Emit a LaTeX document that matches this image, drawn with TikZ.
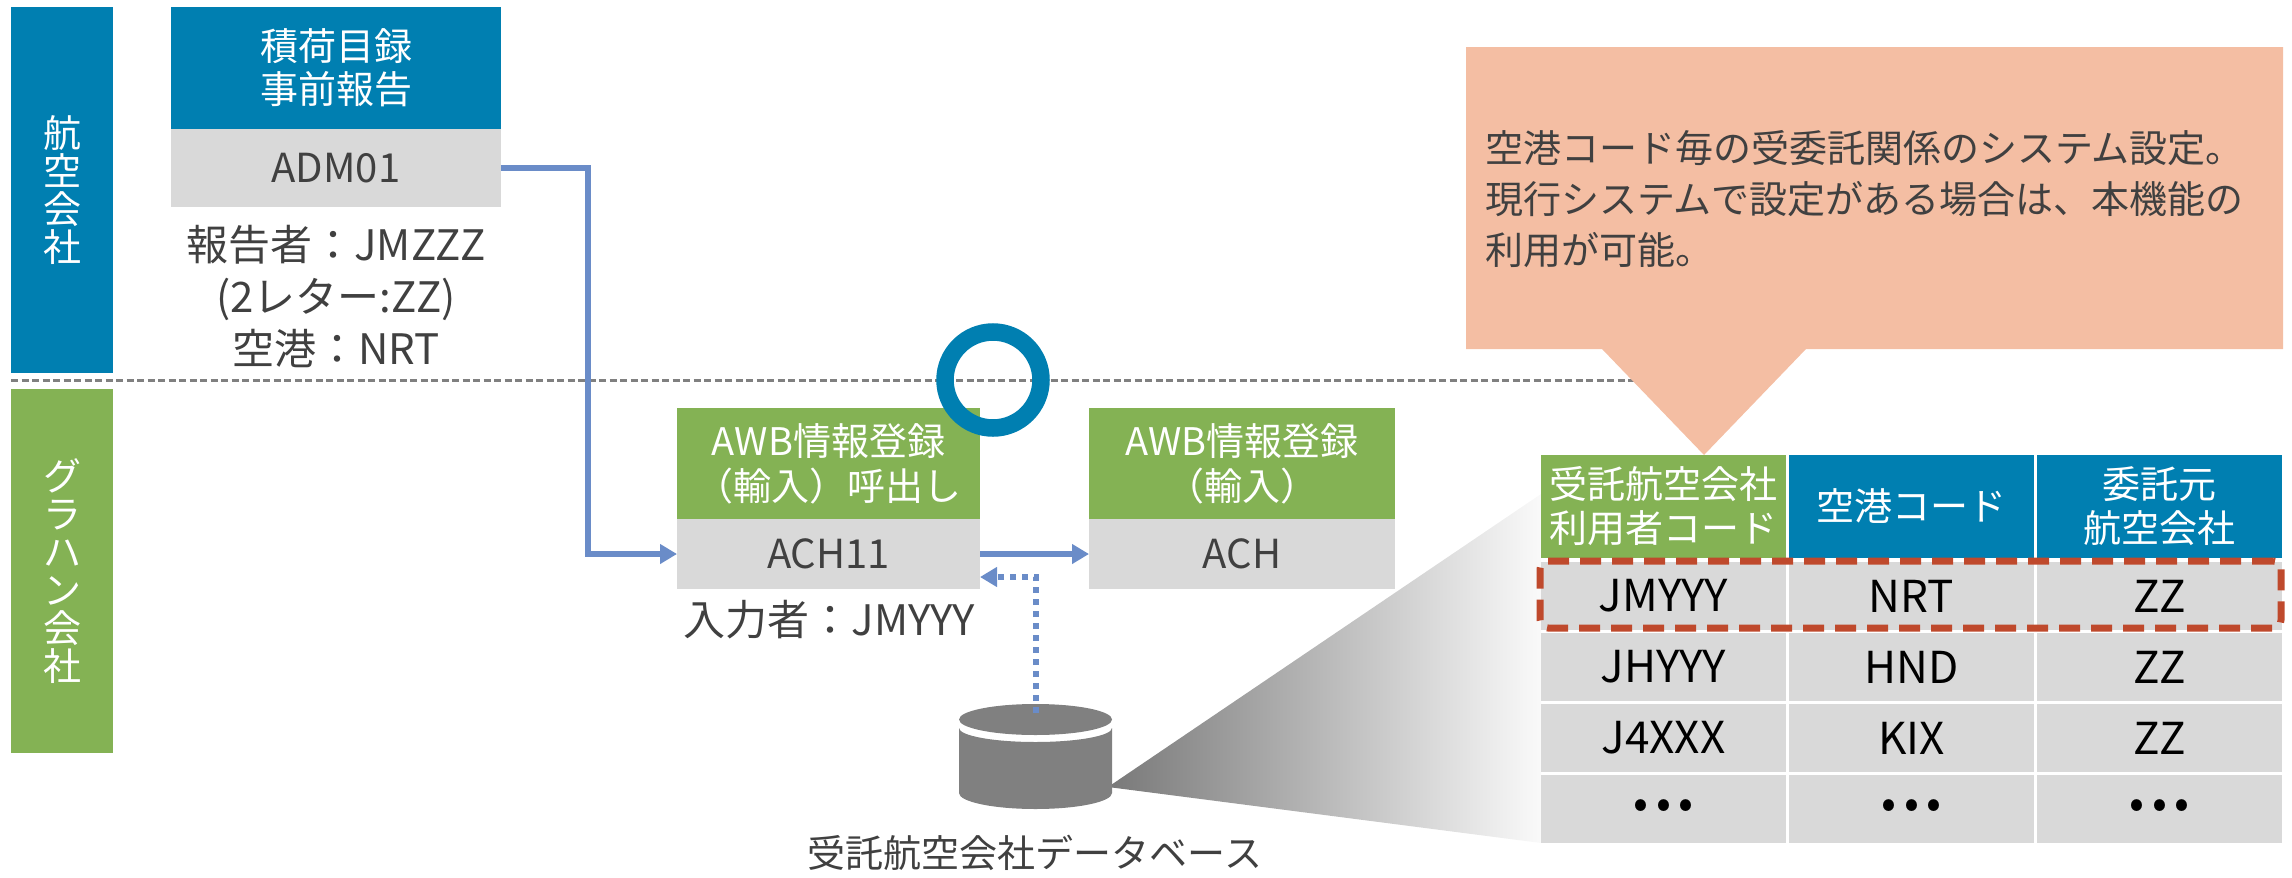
\documentclass[tikz,border=0pt]{standalone}
\usepackage{fontspec}
\setmainfont{Noto Sans CJK JP}
\usetikzlibrary{arrows.meta}
\definecolor{barblue}{RGB}{0,127,177}
\definecolor{cgreen}{RGB}{132,178,84}
\definecolor{cgray}{RGB}{217,217,217}
\definecolor{txt}{RGB}{64,64,64}
\definecolor{sepgray}{RGB}{128,128,128}
\definecolor{dbgray}{RGB}{128,128,128}
\definecolor{arrblue}{RGB}{106,140,200}
\definecolor{calloutc}{RGB}{244,190,163}
\definecolor{hlred}{RGB}{191,73,44}
\definecolor{wedgeL}{RGB}{120,120,120}
\definecolor{wedgeR}{RGB}{250,250,250}
\newcommand\fsz[2]{\fontsize{#1pt}{#2pt}\selectfont}
\newcommand\tdots{•\hspace{4pt}•\hspace{4pt}•}
\tikzset{
  cell/.style={rectangle, inner sep=0pt, outer sep=0pt, anchor=north west, align=center},
  lbl/.style={inner sep=0pt, outer sep=0pt, align=center, text=txt},
  th/.style={cell, minimum width=122.5pt, minimum height=51.5pt, text=white, font=\fsz{19}{22}},
  td/.style={cell, fill=cgray, minimum width=122.5pt, minimum height=34pt, text=black, font=\fsz{22}{24}},
  arr/.style={draw=arrblue, line width=2.9pt, -{Triangle[length=8.5pt,width=9.5pt]}},
  dotarr/.style={arr, dash pattern=on 3pt off 3pt},
  sepline/.style={draw=sepgray, line width=1.5pt, dash pattern=on 3.5pt off 1.75pt},
}
\begin{document}
\begin{tikzpicture}[x=0.5pt,y=-0.5pt]
\useasboundingbox (0,0) rectangle (2292,878);

% separator between lanes
\draw[sepline] (11,380) -- (1700,380);

% lane bars
\node[cell, fill=barblue, minimum width=51pt, minimum height=183pt, text=white, font=\fsz{19}{19}] (airline) at (11,7) {航\\空\\会\\社};
\node[cell, fill=cgreen, minimum width=51pt, minimum height=182pt, text=white, font=\fsz{19}{19}] (ground) at (11,389) {グ\\ラ\\ハ\\ン\\会\\社};

% top box
\node[cell, fill=barblue, minimum width=165pt, minimum height=61pt, text=white, font=\fsz{19}{21.5}] (manifest) at (171,7) {積荷目録\\事前報告};
\node[cell, fill=cgray, minimum width=165pt, minimum height=39pt, text=txt, font=\fsz{20}{22}] (adm) at (171,129) {ADM01};
\node[lbl, font=\fsz{21}{26}] (reporter) at (336,296) {報告者：JMZZZ\\(2レター:ZZ)\\空港：NRT};

% ACH11 box
\node[cell, fill=cgreen, minimum width=151.5pt, minimum height=55.5pt, text=white, font=\fsz{19}{22.5}] (awb1) at (677,408) {AWB情報登録\\（輸入）呼出し};
\node[cell, fill=cgray, minimum width=151.5pt, minimum height=35pt, text=txt, font=\fsz{20}{22}] (ach11) at (677,519) {ACH11};
\node[lbl, font=\fsz{21}{24}] (inputter) at (829.5,620) {入力者：JMYYY};

% ACH box
\node[cell, fill=cgreen, minimum width=153pt, minimum height=55.5pt, text=white, font=\fsz{19}{22.5}] (awb2) at (1089,408) {AWB情報登録\\（輸入）};
\node[cell, fill=cgray, minimum width=153pt, minimum height=35pt, text=txt, font=\fsz{20}{22}] (ach) at (1089,519) {ACH};

% zoom wedge
\shade[left color=wedgeL, right color=wedgeR] (1108,787) -- (1541,494) -- (1541,843) -- cycle;

% database
\fill[dbgray] (959,728) -- (959,793) arc[start angle=180, end angle=0, x radius=76.5, y radius=16]
  -- (1112,728) arc[start angle=0, end angle=180, x radius=76.5, y radius=14] -- cycle;
\fill[dbgray] (1035.5,719.5) ellipse[x radius=76.5, y radius=15.5];
\coordinate (dbtop) at (1036,713);
\node[lbl, font=\fsz{19}{22}] (dblabel) at (1035,853) {受託航空会社データベース};

% table
\node[th, fill=cgreen] (th1) at (1541,455) {受託航空会社\\利用者コード};
\node[th, fill=barblue] (th2) at (1789,455) {空港コード};
\node[th, fill=barblue] (th3) at (2037,455) {委託元\\航空会社};
\foreach \i/\y/\a/\b/\c in {1/562/JMYYY/NRT/ZZ, 2/633/JHYYY/HND/ZZ, 3/704/J4XXX/KIX/ZZ, 4/775/\tdots/\tdots/\tdots} {
  \node[td] (r\i a) at (1541,\y) {\a};
  \node[td] (r\i b) at (1789,\y) {\b};
  \node[td] (r\i c) at (2037,\y) {\c};
}
\node[cell, draw=hlred, line width=3.5pt, dash pattern=on 10.5pt off 5.5pt, rounded corners=4pt,
  minimum width=370.5pt, minimum height=33.5pt] (hl) at (1540,561) {};

% callout
\fill[calloutc] (1466,47) -- (2283,47) -- (2283,349) -- (1806,349) -- (1704,455) -- (1602,349) -- (1466,349) -- cycle;
\node[lbl, anchor=west, align=left, font=\fsz{19}{25.5}] (note) at (1485,199)
  {空港コード毎の受委託関係のシステム設定。\\現行システムで設定がある場合は、本機能の\\利用が可能。};

% OK mark
\node[circle, draw=barblue, line width=8.75pt, minimum size=48pt, inner sep=0pt] (okmark) at (993,380) {};

% connectors
\draw[arr] (adm.east) -- ++(87,0) |- (ach11.west);
\draw[arr] (ach11.east) -- (ach.west);
\draw[dotarr] (dbtop) |- ([yshift=-11.5pt]ach11.east);
\end{tikzpicture}
\end{document}
